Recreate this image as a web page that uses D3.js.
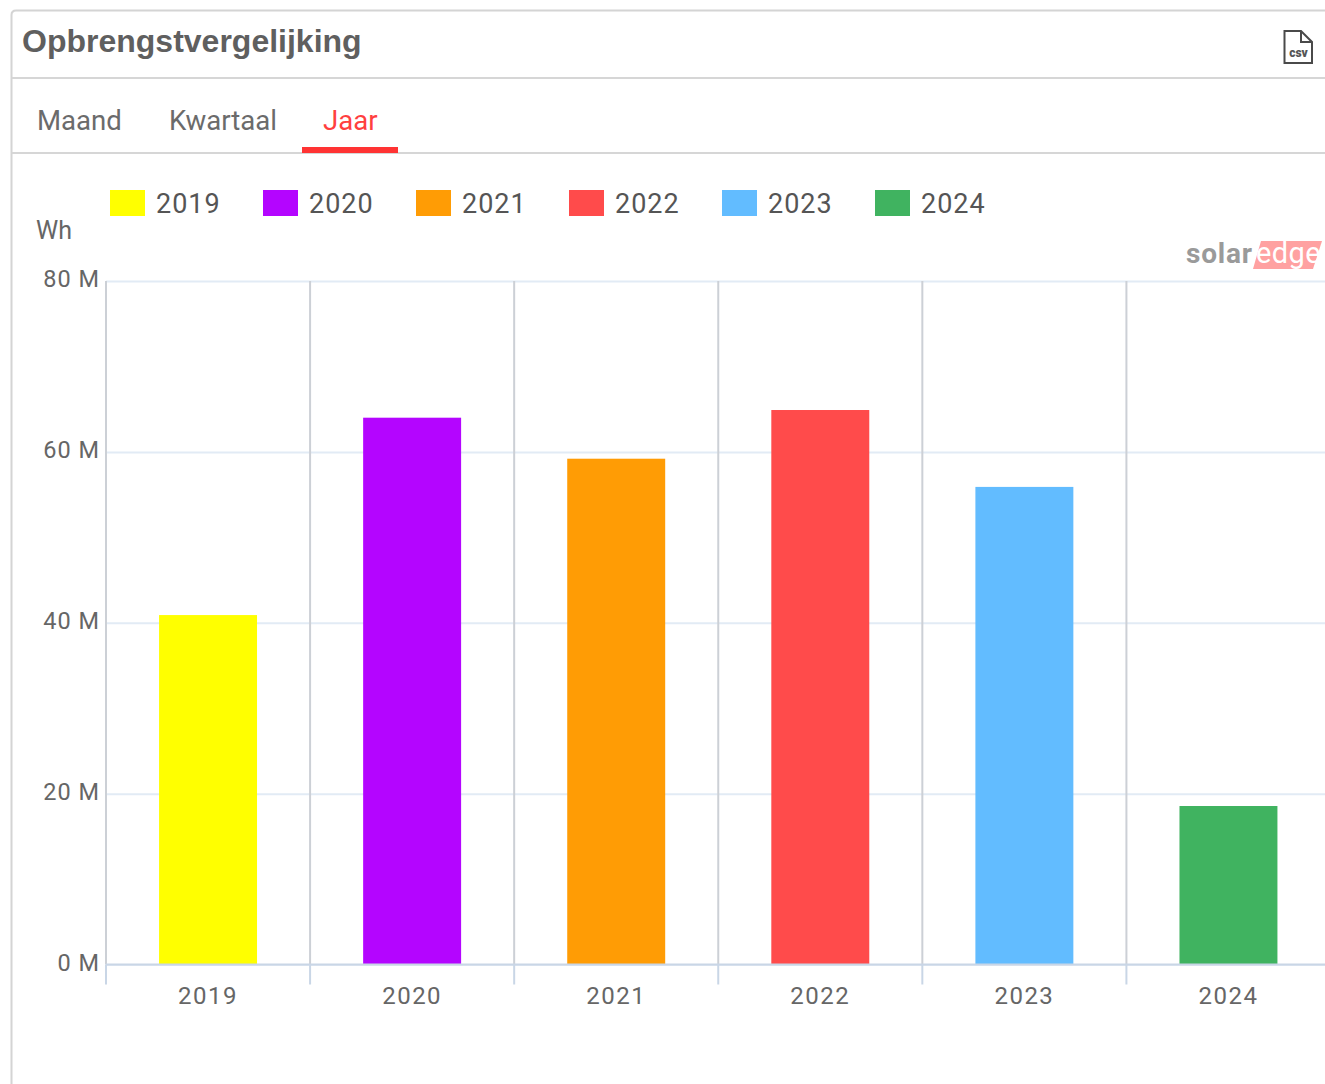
<!DOCTYPE html>
<html>
<head>
<meta charset="utf-8">
<title>Opbrengstvergelijking</title>
<script src="https://cdn.jsdelivr.net/npm/d3@7"></script>
<style>
    html, body { margin: 0; padding: 0; background: #fff; overflow: hidden; }
    text { font-family: Roboto, sans-serif; }
</style>
</head>
<body>
<div id="chart"></div>
<script>
// 数据
const years = ['2019', '2020', '2021', '2022', '2023', '2024'];
const yieldWh = [40.9, 64.0, 59.2, 64.9, 55.9, 18.55];
const barColors = ['#ffff00', '#b405ff', '#ff9c05', '#ff4b4b', '#62bcff', '#40b360'];
const tabs = ['Maand', 'Kwartaal', 'Jaar'];
const yTicks = [0, 20, 40, 60, 80];

const width = 1325, height = 1084;
const plot = {left: 106, right: 1330.5, top: 281, bottom: 964.5};

const svg = d3.select('#chart').append('svg')
    .attr('width', width)
    .attr('height', height)
    .style('display', 'block');

// 面板边框
svg.append('path')
    .attr('d', `M${width} 10.5 H16 Q11.5 10.5 11.5 15 V${height}`)
    .attr('fill', 'none')
    .attr('stroke', '#d4d4d4')
    .attr('stroke-width', 2);
[78, 153].forEach(y => {
    svg.append('line')
        .attr('x1', 12).attr('x2', width)
        .attr('y1', y).attr('y2', y)
        .attr('stroke', '#d6d6d6')
        .attr('stroke-width', 2);
});

// 标题
svg.append('text')
    .attr('x', 22).attr('y', 52)
    .attr('font-size', 32)
    .attr('font-weight', 700)
    .attr('fill', '#5f5f5f')
    .style('font-family', '"Liberation Sans", sans-serif')
    .text('Opbrengstvergelijking');

// csv 图标
const icon = svg.append('g').attr('transform', 'translate(1284,30)');
icon.append('path')
    .attr('d', 'M0.5 1 H17 L28 12 V33 H0.5 Z M17 1 V12 H28')
    .attr('fill', '#fff')
    .attr('stroke', '#4a4a4a')
    .attr('stroke-width', 2);
icon.append('text')
    .attr('x', 14.5).attr('y', 27)
    .attr('text-anchor', 'middle')
    .attr('font-size', 12)
    .attr('font-weight', 900)
    .attr('fill', '#555')
    .text('csv');

// 选项卡
const tabX = [37, 169, 323];
tabs.forEach((t, i) => {
    svg.append('text')
        .attr('x', tabX[i]).attr('y', 130)
        .attr('font-size', 27.6)
        .attr('fill', t === 'Jaar' ? '#ff3f3f' : '#6b6b6b')
        .text(t);
});
svg.append('rect')
    .attr('x', 302).attr('y', 147)
    .attr('width', 96).attr('height', 6)
    .attr('fill', '#ff3333');

// 比例尺
const x = d3.scaleBand()
    .domain(years)
    .range([plot.left, plot.right])
    .paddingInner(0.52)
    .paddingOuter(0.26);
const y = d3.scaleLinear()
    .domain([0, 80])
    .range([plot.bottom, plot.top]);

// y 轴及水平网格
const yAxis = svg.append('g')
    .attr('transform', `translate(${plot.left},0)`)
    .call(d3.axisLeft(y)
        .tickValues(yTicks)
        .tickSize(0)
        .tickPadding(6)
        .tickFormat(d => `${d} M`));
yAxis.select('.domain').remove();
yAxis.selectAll('text')
    .attr('font-size', 23.5)
    .attr('fill', '#666')
    .attr('dy', '0.25em')
    .style('font-family', 'Roboto, sans-serif')
    .style('letter-spacing', '1px');
yAxis.selectAll('.tick line')
    .attr('x2', width - plot.left)
    .attr('stroke', '#e2ebf5')
    .attr('stroke-width', 2);

// 分类边界（网格竖线）
const step = x.step();
const edges = years.map(d => x(d) - x.paddingInner() * step / 2);
svg.append('g').selectAll('line')
    .data(edges)
    .enter()
    .append('line')
    .attr('x1', d => d).attr('x2', d => d)
    .attr('y1', plot.top).attr('y2', plot.bottom)
    .attr('stroke', '#ccd0d6')
    .attr('stroke-width', 2);

// 柱子
svg.append('g').selectAll('rect')
    .data(years)
    .enter()
    .append('rect')
    .attr('x', d => x(d))
    .attr('y', (d, i) => y(yieldWh[i]))
    .attr('width', x.bandwidth())
    .attr('height', (d, i) => y(0) - y(yieldWh[i]))
    .attr('fill', (d, i) => barColors[i]);

// x 轴
const xAxis = svg.append('g')
    .attr('transform', `translate(0,${plot.bottom})`)
    .call(d3.axisBottom(x).tickSize(0).tickPadding(22));
xAxis.select('.domain')
    .attr('d', `M${plot.left} 0 H${width}`)
    .attr('stroke', '#c9d6e6')
    .attr('stroke-width', 2);
xAxis.selectAll('text')
    .attr('font-size', 24)
    .attr('fill', '#666')
    .style('font-family', 'Roboto, sans-serif')
    .style('letter-spacing', '1.5px');
xAxis.append('g').selectAll('line')
    .data(edges)
    .enter()
    .append('line')
    .attr('x1', d => d).attr('x2', d => d)
    .attr('y1', 0).attr('y2', 20)
    .attr('stroke', '#c9d6e6')
    .attr('stroke-width', 2);

// 图例
const legend = svg.append('g').selectAll('g')
    .data(years)
    .enter()
    .append('g')
    .attr('transform', (d, i) => `translate(${110 + i * 153},190)`);
legend.append('rect')
    .attr('width', 35).attr('height', 26)
    .attr('fill', (d, i) => barColors[i]);
legend.append('text')
    .attr('x', 46).attr('y', 23)
    .attr('font-size', 27)
    .attr('fill', '#555')
    .style('letter-spacing', '1px')
    .text(d => d);

// 单位
svg.append('text')
    .attr('x', 36).attr('y', 239)
    .attr('font-size', 25)
    .attr('fill', '#666')
    .text('Wh');

// 水印
svg.append('polygon')
    .attr('points', '1261,241 1322,241 1313,269 1253,269')
    .attr('fill', '#ffa1a1');
svg.append('text')
    .attr('x', 1186).attr('y', 263)
    .attr('font-size', 28)
    .attr('font-weight', 700)
    .attr('fill', '#9a9a9a')
    .style('letter-spacing', '0.8px')
    .text('solar');
svg.append('text')
    .attr('x', 1256).attr('y', 263)
    .attr('font-size', 29)
    .attr('fill', '#fff')
    .style('letter-spacing', '0.4px')
    .text('edge');
</script>
</body>
</html>
